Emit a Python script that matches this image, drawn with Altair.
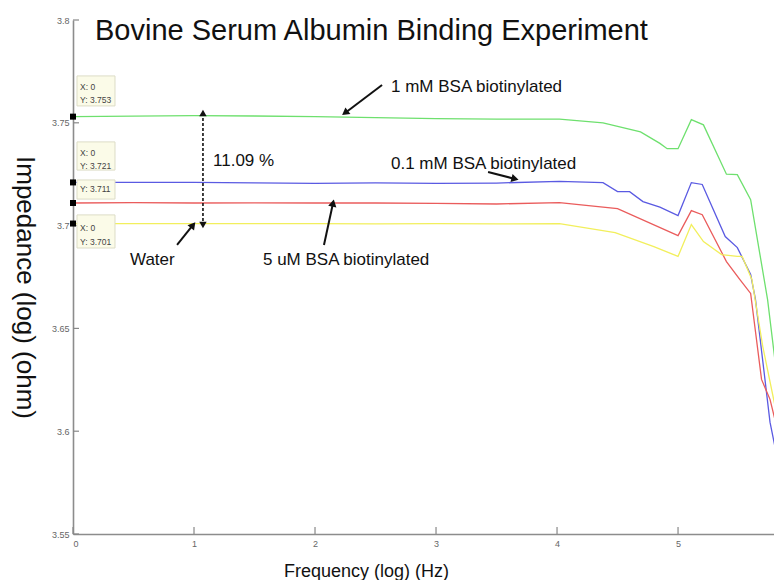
import math
import altair as alt
import pandas as pd

# ---------------- data ----------------
series_names = ["1 mM BSA biotinylated", "0.1 mM BSA biotinylated",
                "5 uM BSA biotinylated", "Water"]
series_colors = ["#6ee06e", "#5a5ae2", "#ea5c5c", "#f2ef5c"]

green_x = [0, 0.5, 1.0, 1.5, 2.0, 2.5, 3.0, 3.5, 4.02, 4.38, 4.69, 4.85, 4.91, 5.0,
           5.11, 5.21, 5.40, 5.49, 5.60, 5.74, 5.86]
green_y = [3.753, 3.7532, 3.7535, 3.7533, 3.753, 3.7525, 3.752, 3.7518, 3.7518, 3.750,
           3.7456, 3.740, 3.7374, 3.7374, 3.7515, 3.749, 3.725, 3.7248, 3.7126, 3.664, 3.606]

blue_x = [0, 0.5, 1.0, 1.5, 2.0, 2.5, 3.0, 3.5, 4.02, 4.38, 4.50, 4.60, 4.71, 4.85, 5.0,
          5.11, 5.20, 5.39, 5.49, 5.60, 5.64, 5.76, 5.80, 5.86]
blue_y = [3.721, 3.721, 3.721, 3.7208, 3.7205, 3.7208, 3.7205, 3.7207, 3.7215, 3.7209,
          3.7165, 3.7165, 3.7117, 3.709, 3.7049, 3.7209, 3.720, 3.6947, 3.6893, 3.6762,
          3.664, 3.6044, 3.5927, 3.5816]

red_x = [0, 0.5, 1.0, 1.5, 2.0, 2.5, 3.0, 3.5, 4.02, 4.50, 5.0, 5.11, 5.20, 5.40, 5.51,
         5.60, 5.69, 5.76, 5.86]
red_y = [3.711, 3.7112, 3.711, 3.7111, 3.711, 3.711, 3.7108, 3.7105, 3.7112, 3.7083,
         3.6951, 3.7073, 3.7053, 3.6825, 3.6738, 3.667, 3.6252, 3.6155, 3.5913]

yellow_x = [0, 0.5, 1.0, 1.5, 2.0, 2.5, 3.0, 3.5, 4.02, 4.48, 4.80, 5.0, 5.11, 5.21, 5.36,
            5.49, 5.53, 5.61, 5.70, 5.79, 5.86]
yellow_y = [3.701, 3.701, 3.701, 3.701, 3.701, 3.7008, 3.701, 3.7008, 3.701, 3.6966,
            3.6898, 3.685, 3.7005, 3.6922, 3.6859, 3.685, 3.685, 3.6738, 3.6413, 3.6155,
            3.5961]

x_ticks = [0, 1, 2, 3, 4, 5]
y_ticks = [3.55, 3.6, 3.65, 3.7, 3.75, 3.8]
x_domain = [0, 5.793]
y_domain = [3.55, 3.8]

# data tips (markers at x = 0)
tip_x = [0, 0, 0, 0]
tip_y = [3.753, 3.721, 3.711, 3.701]
box_x0 = [0.033, 0.033, 0.033, 0.033]
box_x1 = [0.347, 0.347, 0.347, 0.347]
box_ytop = [3.7728, 3.7407, 3.7222, 3.7052]
box_ybot = [3.7582, 3.7270, 3.7129, 3.6891]
tip_text = ["X: 0", "Y: 3.753", "X: 0", "Y: 3.721", "Y: 3.711", "X: 0", "Y: 3.701"]
tip_text_y = [3.7674, 3.7611, 3.7353, 3.7290, 3.7178, 3.6988, 3.6920]
tip_text_x = [0.058] * 7

# annotation labels
label_text = ["1 mM BSA biotinylated", "0.1 mM BSA biotinylated",
              "5 uM BSA biotinylated", "Water", "11.09 %"]
label_x = [2.628, 2.628, 1.570, 0.471, 1.157]
label_y = [3.765, 3.7275, 3.6808, 3.6808, 3.729]

# arrows: tail -> head
arrow_x1 = [2.554, 3.430, 2.074, 0.860]
arrow_y1 = [3.7684, 3.7261, 3.6906, 3.6906]
arrow_x2 = [2.248, 3.653, 2.149, 0.992]
arrow_y2 = [3.7548, 3.7227, 3.7110, 3.7003]

# dashed double arrow (11.09 % span)
span_x = [1.074]
span_top = [3.7548]
span_bot = [3.7003]

# ---------------- layout ----------------
W, H = 701, 514
FONT = "Liberation Sans"

xs = alt.Scale(domain=x_domain, nice=False, zero=False)
ys = alt.Scale(domain=y_domain, nice=False, zero=False)

rows = []
for name, xx, yy in zip(series_names, [green_x, blue_x, red_x, yellow_x],
                        [green_y, blue_y, red_y, yellow_y]):
    for a, b in zip(xx, yy):
        rows.append({"series": name, "f": a, "z": b})
lines_df = pd.DataFrame(rows)

x_axis = alt.Axis(values=x_ticks, format="d", title="Frequency (log) (Hz)",
                  titleX=293, titleY=42, titleAlign="center", titleBaseline="alphabetic",
                  titleFontSize=18, titleFontWeight="normal", titleFont=FONT,
                  titleColor="#111", labelPadding=5)
y_axis = alt.Axis(values=y_ticks, title="Impedance (log) (ohm)", titleAngle=90,
                  titleX=-57, titleY=267, titleAlign="center", titleBaseline="alphabetic",
                  titleFontSize=26, titleFontWeight="normal", titleFont=FONT,
                  titleColor="#111", labelPadding=4,
                  labelExpr="datum.value == 3.8 ? '3.8' : datum.value == 3.7 ? '3.7' : datum.value == 3.6 ? '3.6' : format(datum.value, '.2f')")

lines = alt.Chart(lines_df).mark_line(strokeWidth=1.3, clip=True).encode(
    x=alt.X("f:Q", scale=xs, axis=x_axis),
    y=alt.Y("z:Q", scale=ys, axis=y_axis),
    color=alt.Color("series:N", scale=alt.Scale(domain=series_names, range=series_colors),
                    legend=None),
    detail="series:N",
)

ytick_df = pd.DataFrame({"v": y_ticks})
ytick_rules = alt.Chart(ytick_df).mark_rule(color="#888", strokeWidth=1.2).encode(
    y=alt.Y("v:Q", scale=ys), x=alt.value(0), x2=alt.value(6))
xtick_df = pd.DataFrame({"v": x_ticks})
xtick_rules = alt.Chart(xtick_df).mark_rule(color="#888", strokeWidth=1.2).encode(
    x=alt.X("v:Q", scale=xs), y=alt.value(H - 7), y2=alt.value(H))

box_df = pd.DataFrame({"x0": box_x0, "x1": box_x1, "y0": box_ytop, "y1": box_ybot})
boxes = alt.Chart(box_df).mark_rect(fill="#fbfbe8", stroke="#dcdcc6", strokeWidth=1).encode(
    x=alt.X("x0:Q", scale=xs), x2="x1:Q", y=alt.Y("y0:Q", scale=ys), y2="y1:Q")

tt_df = pd.DataFrame({"t": tip_text, "x": tip_text_x, "y": tip_text_y})
tip_texts = alt.Chart(tt_df).mark_text(align="left", baseline="middle", fontSize=8.5,
                                       font=FONT, color="#444").encode(
    x=alt.X("x:Q", scale=xs), y=alt.Y("y:Q", scale=ys), text="t:N")

tip_df = pd.DataFrame({"x": tip_x, "y": tip_y})
tips = alt.Chart(tip_df).mark_square(size=36, color="black", opacity=1, clip=False).encode(
    x=alt.X("x:Q", scale=xs), y=alt.Y("y:Q", scale=ys))

lab_df = pd.DataFrame({"t": label_text, "x": label_x, "y": label_y})
labels = alt.Chart(lab_df).mark_text(align="left", baseline="alphabetic", fontSize=17,
                                     font=FONT, color="#111").encode(
    x=alt.X("x:Q", scale=xs), y=alt.Y("y:Q", scale=ys), text="t:N")

sx = W / (x_domain[1] - x_domain[0])
sy = H / (y_domain[1] - y_domain[0])
angles = []
for a, b, c, d in zip(arrow_x1, arrow_y1, arrow_x2, arrow_y2):
    dxp = (c - a) * sx
    dyp = -(d - b) * sy
    angles.append(math.degrees(math.atan2(dxp, -dyp)) % 360)

arr_df = pd.DataFrame({"x1": arrow_x1, "y1": arrow_y1, "x2": arrow_x2, "y2": arrow_y2,
                       "ang": angles})
arrow_lines = alt.Chart(arr_df).mark_rule(color="#111", strokeWidth=2).encode(
    x=alt.X("x1:Q", scale=xs), y=alt.Y("y1:Q", scale=ys), x2="x2:Q", y2="y2:Q")
arrow_heads = alt.Chart(arr_df).mark_point(shape="triangle-up", filled=True, size=70,
                                           color="#111", opacity=1).encode(
    x=alt.X("x2:Q", scale=xs), y=alt.Y("y2:Q", scale=ys),
    angle=alt.Angle("ang:Q", scale=None))

span_df = pd.DataFrame({"x": span_x, "top": span_top, "bot": span_bot})
span_line = alt.Chart(span_df).mark_rule(color="#111", strokeWidth=1.6,
                                         strokeDash=[3, 2]).encode(
    x=alt.X("x:Q", scale=xs), y=alt.Y("top:Q", scale=ys), y2="bot:Q")
span_heads_df = pd.DataFrame({"x": span_x * 2, "y": [span_top[0], span_bot[0]],
                              "ang": [0, 180]})
span_heads = alt.Chart(span_heads_df).mark_point(shape="triangle-up", filled=True, size=55,
                                                 color="#111", opacity=1).encode(
    x=alt.X("x:Q", scale=xs), y=alt.Y("y:Q", scale=ys),
    angle=alt.Angle("ang:Q", scale=None))

title_df = pd.DataFrame({"t": ["Bovine Serum Albumin Binding Experiment"]})
title = alt.Chart(title_df).mark_text(align="left", baseline="alphabetic", fontSize=29,
                                      font=FONT, color="#111").encode(
    x=alt.value(22), y=alt.value(20), text="t:N")

chart = alt.layer(
    lines, ytick_rules, xtick_rules, boxes, tip_texts, tips, labels,
    arrow_lines, arrow_heads, span_line, span_heads, title
).properties(
    width=W, height=H,
    padding={"left": 65, "top": 12, "right": 0, "bottom": 46},
    autosize=alt.AutoSizeParams(type="none"),
).configure_view(stroke=None).configure_axis(
    grid=False, ticks=False, domainColor="#8c8c8c", domainWidth=1.6,
    labelFont=FONT, labelFontSize=9, labelColor="#666",
).configure_axisX(labelBaseline="top")

chart.save("out.html", embed_options={"renderer": "svg", "actions": False})
